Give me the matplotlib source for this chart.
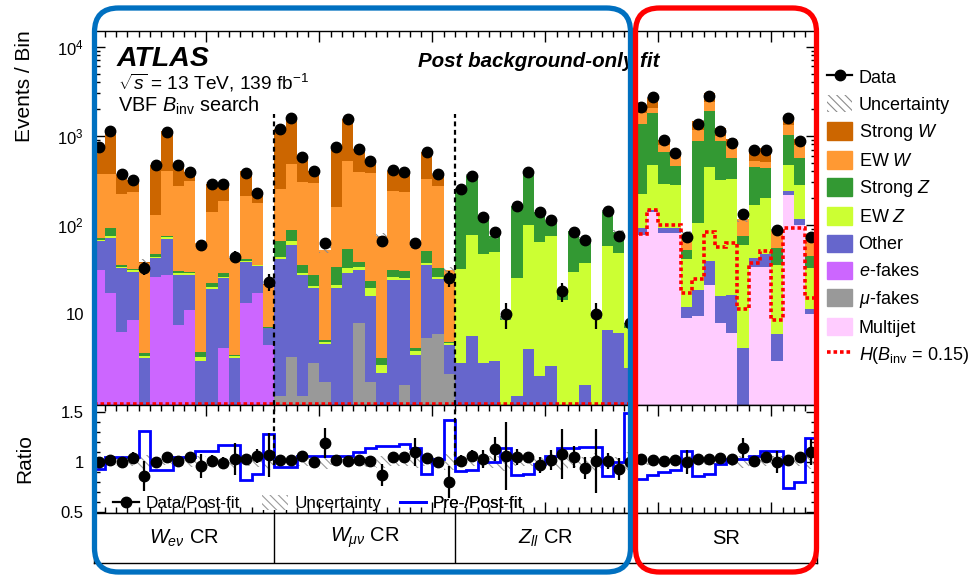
import numpy as np
import matplotlib
matplotlib.use("Agg")
import matplotlib.pyplot as plt
from matplotlib.patches import Patch, FancyBboxPatch
from matplotlib.lines import Line2D
from matplotlib.transforms import IdentityTransform
from matplotlib.ticker import MultipleLocator, FixedLocator, NullFormatter, LogLocator

plt.rcParams['font.family'] = ['Liberation Sans', 'DejaVu Sans']
plt.rcParams['mathtext.fontset'] = 'custom'
plt.rcParams['mathtext.rm'] = 'Liberation Sans'
plt.rcParams['mathtext.it'] = 'Liberation Sans:italic'
plt.rcParams['mathtext.bf'] = 'Liberation Sans:bold'
plt.rcParams['hatch.linewidth'] = 0.8

# ---------------- data: 4 regions x 16 bins (Wev CR | Wmunu CR | Zll CR | SR)
regions = [r"$W_{e\nu}$ CR", r"$W_{\mu\nu}$ CR", r"$Z_{ll}$ CR", "SR"]

multijet = ([0]*16 + [0]*16 + [0]*16 +
            [77, 138, 82, 82, 8.9, 9.5, 21.2, 7.9, 6.1, 0, 33.4, 33.4, 3.0, 217, 100, 10])
mu_fakes = ([0]*16 +
            [1.2, 3.3, 1.2, 2.8, 1.7, 0, 0, 7.9, 1.7, 0, 0, 1.6, 0, 5.3, 6.0, 2.1] +
            [0]*16 + [0]*16)
e_fakes = ([31, 17.1, 6.3, 8.6, 0.2, 26.3, 27.4, 7.5, 11.1, 0.2, 0.5, 4.1, 0.2, 13.2, 17.1, 4.5] +
           [0]*16 + [0]*16 + [0]*16)
other = ([35, 54, 26.3, 21.3, 3.0, 15.9, 41.6, 19.9, 16.3, 2.8, 18.4, 21.1, 3.0, 25.5, 17.5, 2.4] +
         [39.9, 56.3, 26.2, 16.7, 2.9, 19.5, 28.6, 23.3, 14.4, 2.15, 24.3, 22.3, 3.46, 30.2, 18.6, 2.4] +
         [2.8, 5.7, 2.8, 3.0, 0.3, 1.2, 4.0, 2.0, 2.6, 0.3, 0.5, 1.6, 0.2, 6.6, 6.1, 2.5] +
         [14.6, 10, 10, 10, 3.2, 9.1, 18.5, 7.8, 10.2, 4.1, 9.6, 13.8, 3.0, 24, 16, 1.5])
ew_z = ([1.5, 3.2, 1.4, 0.9, 0.2, 1.9, 3.7, 1.6, 1.2, 0.3, 1.4, 1.1, 0.15, 1.0, 0.5, 0.05] +
        [3.0, 6.5, 1.7, 1.2, 0.3, 1.7, 4.0, 2.3, 3.4, 0.5, 1.5, 1.4, 0.4, 2.2, 1.7, 0.2] +
        [29, 71.5, 44.4, 47, 8.3, 24, 96, 63, 72.6, 14, 29.4, 35.5, 9.0, 51.5, 42.8, 4.5] +
        [131, 324, 197, 189, 29, 87, 412, 304, 310, 55.5, 125, 153, 29.4, 231, 165, 21])
strong_z = ([3.0, 17.8, 1.5, 1.0, 0.25, 3.1, 2.5, 1.7, 1.3, 0.4, 1.8, 2.3, 0.15, 1.4, 0.4, 0.1] +
            [21, 22, 6.4, 6.7, 0.2, 12.3, 21, 4.6, 4.2, 0.56, 5.4, 5.0, 0.3, 13.8, 6.3, 0.2] +
            [230, 281, 74, 24.5, 0.9, 136, 291, 76, 39, 3.9, 55, 33, 0.5, 90, 35, 1.0] +
            [1142, 1328, 361, 171, 11.3, 773, 1425, 544, 235, 15.6, 277, 240, 19.2, 554, 280, 12])
ew_w = ([303, 282, 187, 199, 33.5, 82, 332, 243, 277, 58.3, 119, 159, 38.7, 167, 140, 14.2] +
        [187, 396, 264, 266, 47, 127, 474, 349, 363, 72, 206, 206, 52, 275, 237, 26.3] +
        [0]*16 +
        [435, 245, 142, 134, 26.6, 289, 493, 120, 198, 40, 70, 70, 33, 304, 231, 29])
strong_w = ([420, 794, 151, 89, 1.5, 343, 713, 198, 90, 0.5, 148, 101, 0.5, 189, 62, 0.3] +
            [948, 1096, 277, 111, 0.5, 585, 1012, 321, 137, 0.5, 178, 160, 0.5, 330, 104, 0.3] +
            [0]*16 +
            [220, 600, 101, 40, 0.5, 282, 640, 235, 159, 0.3, 212, 217, 0.3, 350, 126, 0.5])
data = ([746, 1120, 374, 320, 33, 472, 1100, 472, 397, 60, 289, 289, 44, 381, 227, 23] +
        [1199, 1580, 576, 404, 62, 746, 1540, 708, 524, 66, 415, 397, 62, 656, 374, 25] +
        [252, 358, 121, 84, 10, 161, 391, 141, 114, 18, 84, 67, 10, 144, 75, 8] +
        [2080, 2700, 902, 639, 74, 1350, 2810, 1140, 828, 132, 685, 685, 88, 1580, 864, 74])
signal = ([0]*16 + [0]*16 + [0]*16 +
          [78, 148, 100, 100, 17.1, 24.7, 84, 56, 63, 11.5, 37, 51.5, 8.6, 92, 92, 15])
rel_unc = ([0.03, 0.03, 0.04, 0.04, 0.07, 0.03, 0.03, 0.04, 0.05, 0.06, 0.04, 0.04, 0.06, 0.04, 0.05, 0.08] +
           [0.03, 0.03, 0.04, 0.04, 0.07, 0.03, 0.03, 0.04, 0.05, 0.06, 0.04, 0.04, 0.06, 0.04, 0.05, 0.08] +
           [0.04, 0.04, 0.05, 0.06, 0.09, 0.04, 0.04, 0.05, 0.05, 0.08, 0.05, 0.05, 0.09, 0.05, 0.05, 0.10] +
           [0.03, 0.03, 0.03, 0.04, 0.06, 0.03, 0.03, 0.03, 0.04, 0.06, 0.04, 0.04, 0.06, 0.03, 0.04, 0.07])
ratio_data = ([1.00, 1.02, 1.00, 1.04, 0.86, 1.00, 1.05, 1.01, 1.05, 0.96, 1.01, 0.99, 1.03, 1.03, 1.06, 1.07] +
              [1.02, 1.02, 1.06, 1.00, 1.19, 1.02, 1.01, 1.02, 1.01, 0.87, 1.05, 1.05, 1.10, 1.04, 1.00, 0.80] +
              [1.01, 1.06, 1.03, 1.13, 1.06, 1.05, 1.05, 0.97, 1.02, 1.08, 1.05, 0.94, 1.01, 1.01, 0.93, 1.00] +
              [1.03, 1.02, 1.01, 1.02, 1.00, 1.03, 1.03, 1.04, 1.03, 1.14, 1.01, 1.05, 1.00, 1.02, 1.05, 1.10])
pre_post = ([0.93, 1.05, 1.05, 1.05, 1.31, 0.92, 0.92, 1.05, 1.05, 1.11, 1.11, 1.17, 1.17, 0.82, 0.88, 1.28] +
            [0.95, 0.95, 1.06, 1.06, 1.06, 1.06, 1.06, 1.10, 1.14, 1.16, 1.16, 1.18, 1.14, 0.88, 1.03, 1.42] +
            [0.91, 0.92, 1.00, 1.00, 1.14, 0.87, 0.88, 0.98, 1.06, 1.14, 1.14, 1.15, 1.15, 0.86, 1.00, 1.49] +
            [0.83, 0.87, 0.90, 0.92, 1.11, 0.86, 0.88, 0.98, 1.03, 1.03, 1.06, 1.11, 1.11, 0.74, 0.80, 1.24])

components = [
    (multijet, "Multijet", "#ffccff"),
    (mu_fakes, r"$\mu$-fakes", "#999999"),
    (e_fakes, r"$e$-fakes", "#cc66ff"),
    (other, "Other", "#6666cc"),
    (ew_z, r"EW $Z$", "#ccff33"),
    (strong_z, r"Strong $Z$", "#339933"),
    (ew_w, r"EW $W$", "#ff9933"),
    (strong_w, r"Strong $W$", "#cc6600"),
]

nbins = len(data)
edges = np.arange(nbins + 1)
centers = edges[:-1] + 0.5
bounds = [16, 32, 48]

# ---------------- figure layout (pixel based)
W, H = 973, 576
fig = plt.figure(figsize=(W / 100, H / 100), dpi=100)
def fx(p): return p / W
def fy(p): return 1 - p / H
xl, xr = 93.5, 816.5
ax = fig.add_axes([fx(xl), fy(405), fx(xr) - fx(xl), fy(31) - fy(405)])
rax = fig.add_axes([fx(xl), fy(513), fx(xr) - fx(xl), fy(405) - fy(513)])
lax = fig.add_axes([fx(xl), fy(563), fx(xr) - fx(xl), fy(513) - fy(563)])

ylo, yhi = 0.95, 1.5e4

# ---------------- main panel: stacked backgrounds
bottom = np.zeros(nbins)
for vals, label, col in components:
    v = np.asarray(vals, float)
    m = v > 0
    ax.bar(centers[m], v[m], width=1.0, bottom=bottom[m], color=col,
           linewidth=0, antialiased=False, zorder=2)
    bottom += v
total = bottom

unc = np.asarray(rel_unc)
ax.bar(centers, 2 * unc * total, width=1.0, bottom=total * (1 - unc), fill=False,
       hatch='\\\\\\\\', edgecolor='#8c8c8c', linewidth=0, zorder=3)

sig = np.clip(np.asarray(signal, float), ylo * 1.03, None)
ax.stairs(sig, edges, color='red', lw=2.6, linestyle=(0, (1.0, 0.8)), baseline=None, zorder=4)

d = np.asarray(data, float)
ax.errorbar(centers, d, yerr=np.sqrt(d), fmt='o', color='black', ms=7.5,
            elinewidth=1.6, capsize=0, zorder=6)

for b in bounds:
    ax.plot([b, b], [ylo, 1750], color='black', lw=1.6, ls=(0, (2.2, 1.6)), zorder=5)

ax.set_yscale('log')
ax.set_xlim(0, nbins)
ax.set_ylim(ylo, yhi)
ax.yaxis.set_major_locator(FixedLocator([10, 100, 1000, 10000]))
ax.set_yticklabels(['10', '$10^2$', '$10^3$', '$10^4$'])
ax.yaxis.set_minor_locator(LogLocator(base=10, subs=np.arange(2, 10)))
ax.yaxis.set_minor_formatter(NullFormatter())

# ---------------- ratio panel
rd = np.asarray(ratio_data)
ru = unc
rax.bar(centers, 2 * ru, width=1.0, bottom=1 - ru, fill=False,
        hatch='\\\\\\\\', edgecolor='#9a9a9a', linewidth=0, zorder=2)
rax.stairs(pre_post, edges, color='blue', lw=2.0, baseline=None, zorder=3)
rax.errorbar(centers, rd, yerr=rd / np.sqrt(d), fmt='o', color='black', ms=7.5,
             elinewidth=1.6, capsize=0, zorder=5)
for b in bounds:
    rax.plot([b, b], [0.97, 1.6], color='black', lw=1.6, ls=(0, (2.2, 1.6)), zorder=4)
rax.set_xlim(0, nbins)
rax.set_ylim(0.49, 1.57)
rax.yaxis.set_major_locator(FixedLocator([0.5, 1.0, 1.5]))
rax.set_yticklabels(['0.5', '1', '1.5'])
rax.yaxis.set_minor_locator(MultipleLocator(0.1))

for a in (ax, rax):
    a.xaxis.set_major_locator(MultipleLocator(10))
    a.xaxis.set_minor_locator(MultipleLocator(1))
    a.tick_params(which='both', direction='in', top=True, right=True,
                  labelbottom=False, labelsize=12, width=1.0)
    a.tick_params(which='major', length=8)
    a.tick_params(which='minor', length=4)
    a.tick_params(axis='y', pad=7)
    for s in a.spines.values():
        s.set_linewidth(1.0)

# ratio legend, three entries laid out by hand
leg_font = 12.3
lh = [
    (Line2D([], [], color='black', marker='o', ms=7.5, lw=1.6), 'Data/Post-fit', 113),
    (Patch(facecolor='white', edgecolor='#9a9a9a', hatch='\\\\\\\\', lw=0), 'Uncertainty', 262),
    (Line2D([], [], color='blue', lw=2.0), 'Pre-/Post-fit', 400),
]
ax_w = xr - xl
for h, lab, px in lh:
    lg = rax.legend([h], [lab], loc='center left', frameon=False, fontsize=leg_font,
                    bbox_to_anchor=((px - xl) / ax_w, (513 - 503) / 108.0),
                    borderpad=0, borderaxespad=0, handlelength=1.5, handletextpad=0.4,
                    handleheight=1.0)
    rax.add_artist(lg)

# ---------------- region label strip
lax.set_xlim(0, nbins)
lax.set_ylim(0, 1)
lax.set_xticks([])
lax.set_yticks([])
for s in lax.spines.values():
    s.set_linewidth(1.0)
for b in bounds:
    lax.axvline(b, color='black', lw=1.0)
for i, name in enumerate(regions):
    lax.text(16 * i + 8, 0.5, name, ha='center', va='center', fontsize=14.5)

# ---------------- labels and annotations
fig.text(fx(25), fy(30), 'Events / Bin', rotation=90, ha='center', va='top', fontsize=15)
fig.text(fx(25), fy(459), 'Ratio', rotation=90, ha='center', va='center', fontsize=15)
fig.text(fx(117), fy(66), 'ATLAS', fontsize=20.5, fontweight='bold', fontstyle='italic', va='baseline')
fig.text(fx(118), fy(90), r'$\sqrt{s}$ = 13 TeV, 139 fb$^{-1}$', fontsize=13.8, va='baseline')
fig.text(fx(118), fy(112), r'VBF $B_{\mathrm{inv}}$ search', fontsize=14.3, va='baseline')
fig.text(fx(418), fy(67), 'Post background-only fit', fontsize=14.8, fontweight='bold',
         fontstyle='italic', va='baseline')

# ---------------- main legend
handles = [Line2D([], [], color='black', marker='o', ms=7.5, lw=1.6),
           Patch(facecolor='white', edgecolor='#8c8c8c', hatch='\\\\\\\\', lw=0)]
labels = ['Data', 'Uncertainty']
for vals, label, col in reversed(components):
    handles.append(Patch(facecolor=col, edgecolor=col))
    labels.append(label)
handles.append(Line2D([], [], color='red', lw=2.6, ls=(0, (1.0, 0.8))))
labels.append(r'$H$($B_{\mathrm{inv}}$ = 0.15)')
fig.legend(handles, labels, loc='upper left', bbox_to_anchor=(fx(827), fy(68)),
           frameon=False, fontsize=13, borderpad=0, borderaxespad=0,
           handlelength=1.4, handleheight=1.1, handletextpad=0.35, labelspacing=0.455)

# ---------------- highlight frames
blue = FancyBboxPatch((94.5, H - 572), 630.5 - 94.5, 572 - 8,
                      boxstyle='round,pad=0,rounding_size=24', fill=False,
                      edgecolor='#0070c0', lw=3.8, transform=IdentityTransform(), zorder=20)
red = FancyBboxPatch((635.5, H - 572), 816.5 - 635.5, 572 - 8,
                     boxstyle='round,pad=0,rounding_size=24', fill=False,
                     edgecolor='#ff0000', lw=3.8, transform=IdentityTransform(), zorder=21)
fig.add_artist(blue)
fig.add_artist(red)

fig.savefig('out.png', dpi=100)
